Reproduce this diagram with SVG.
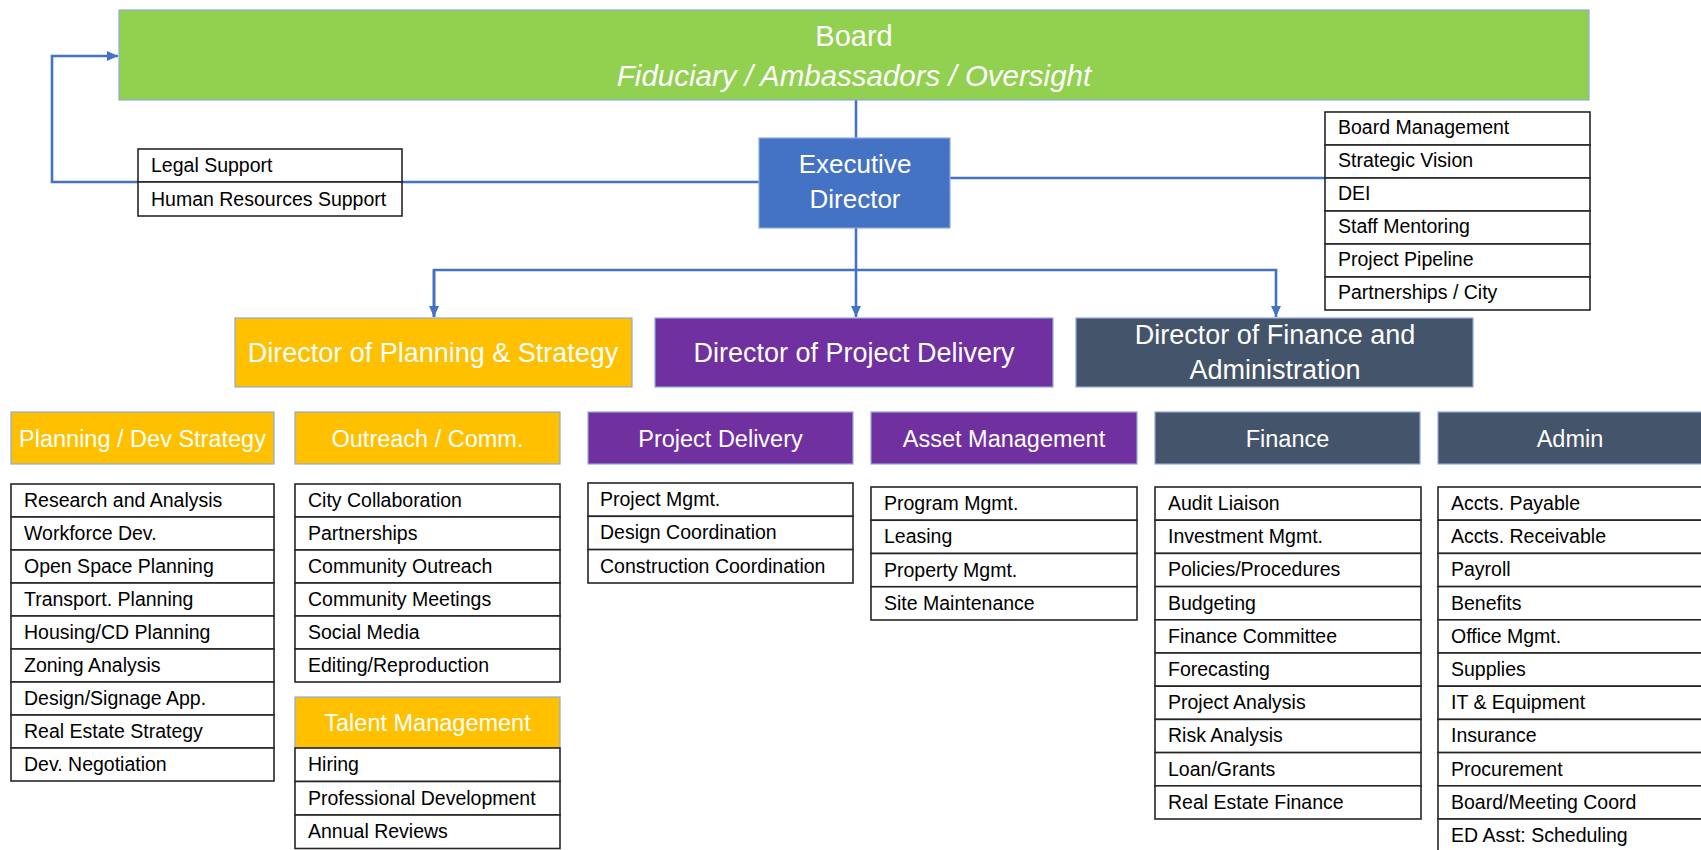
<svg xmlns="http://www.w3.org/2000/svg" width="1701" height="850" viewBox="0 0 1701 850">
<style>
text{font-family:"Liberation Sans",Arial,sans-serif}
.hdr{stroke:#8eaadb;stroke-width:1.2}
.green{fill:#92d050}
.blue{fill:#4472c4}
.gold{fill:#ffc000}
.purple{fill:#7030a0}
.slate{fill:#44546a}
.cell{fill:#fff;stroke:#262626;stroke-width:1.6}
.li{font-size:19.5px;fill:#000}
.wt{fill:#fff;text-anchor:middle}
.dir{font-size:27px}
.sub{font-size:23.5px}
.conn{fill:none;stroke:#4472c4;stroke-width:2.6}
</style>
<defs>
<marker id="arr" markerUnits="userSpaceOnUse" markerWidth="12" markerHeight="12" refX="11" refY="6" orient="auto">
<path d="M0,1 L11,6 L0,11 Z" fill="#4472c4"/>
</marker>
</defs>

<g id="connectors">
<path class="conn" d="M856,100 V138"/>
<path class="conn" d="M759,182 H52 V56 H118" marker-end="url(#arr)"/>
<path class="conn" d="M950,178 H1325"/>
<path class="conn" d="M856,228 V317" marker-end="url(#arr)"/>
<path class="conn" d="M434,317 V270 H1276 V317" marker-end="url(#arr)"/>
<path class="conn" d="M434,270 V317" marker-end="url(#arr)"/>
</g>

<g id="board">
<rect class="green hdr" x="119" y="10" width="1470" height="90"/>
<text class="wt" x="854" y="46" font-size="29">Board</text>
<text class="wt" x="854" y="86" font-size="29.5" font-style="italic">Fiduciary / Ambassadors / Oversight</text>
</g>

<g id="executive-director">
<rect class="blue hdr" x="759" y="138" width="191" height="90"/>
<text class="wt" x="855" y="173" font-size="26">Executive</text>
<text class="wt" x="855" y="208" font-size="26">Director</text>
</g>

<g id="legal-hr">
<rect class="cell" x="138" y="149" width="264" height="33"/>
<rect class="cell" x="138" y="182" width="264" height="34"/>
<text class="li" x="151" y="172">Legal Support</text>
<text class="li" x="151" y="206">Human Resources Support</text>
</g>

<g id="ed-duties">
<rect class="cell" x="1325" y="112" width="265" height="33"/>
<rect class="cell" x="1325" y="145" width="265" height="33"/>
<rect class="cell" x="1325" y="178" width="265" height="33"/>
<rect class="cell" x="1325" y="211" width="265" height="33"/>
<rect class="cell" x="1325" y="244" width="265" height="33"/>
<rect class="cell" x="1325" y="277" width="265" height="33"/>
<text class="li" x="1338" y="134">Board Management</text>
<text class="li" x="1338" y="167">Strategic Vision</text>
<text class="li" x="1338" y="200">DEI</text>
<text class="li" x="1338" y="233">Staff Mentoring</text>
<text class="li" x="1338" y="266">Project Pipeline</text>
<text class="li" x="1338" y="299">Partnerships / City</text>
</g>

<g id="director-planning">
<rect class="gold hdr" x="235" y="318" width="397" height="69"/>
<text class="wt dir" x="433" y="362">Director of Planning &amp; Strategy</text>
</g>

<g id="director-project-delivery">
<rect class="purple hdr" x="655" y="318" width="398" height="69"/>
<text class="wt dir" x="854" y="362">Director of Project Delivery</text>
</g>

<g id="director-finance">
<rect class="slate hdr" x="1076" y="318" width="397" height="69"/>
<text class="wt dir" x="1275" y="344">Director of Finance and</text>
<text class="wt dir" x="1275" y="379">Administration</text>
</g>

<g id="planning-dev">
<rect class="gold hdr" x="11" y="412" width="263" height="52"/>
<text class="wt sub" x="142.5" y="447">Planning / Dev Strategy</text>
<rect class="cell" x="11" y="484" width="263" height="33"/>
<rect class="cell" x="11" y="517" width="263" height="33"/>
<rect class="cell" x="11" y="550" width="263" height="33"/>
<rect class="cell" x="11" y="583" width="263" height="33"/>
<rect class="cell" x="11" y="616" width="263" height="33"/>
<rect class="cell" x="11" y="649" width="263" height="33"/>
<rect class="cell" x="11" y="682" width="263" height="33"/>
<rect class="cell" x="11" y="715" width="263" height="33"/>
<rect class="cell" x="11" y="748" width="263" height="33"/>
<text class="li" x="24" y="507">Research and Analysis</text>
<text class="li" x="24" y="540">Workforce Dev.</text>
<text class="li" x="24" y="573">Open Space Planning</text>
<text class="li" x="24" y="606">Transport. Planning</text>
<text class="li" x="24" y="639">Housing/CD Planning</text>
<text class="li" x="24" y="672">Zoning Analysis</text>
<text class="li" x="24" y="705">Design/Signage App.</text>
<text class="li" x="24" y="738">Real Estate Strategy</text>
<text class="li" x="24" y="771">Dev. Negotiation</text>
</g>

<g id="outreach">
<rect class="gold hdr" x="295" y="412" width="265" height="52"/>
<text class="wt sub" x="427.5" y="447">Outreach / Comm.</text>
<rect class="cell" x="295" y="484" width="265" height="33"/>
<rect class="cell" x="295" y="517" width="265" height="33"/>
<rect class="cell" x="295" y="550" width="265" height="33"/>
<rect class="cell" x="295" y="583" width="265" height="33"/>
<rect class="cell" x="295" y="616" width="265" height="33"/>
<rect class="cell" x="295" y="649" width="265" height="33"/>
<text class="li" x="308" y="507">City Collaboration</text>
<text class="li" x="308" y="540">Partnerships</text>
<text class="li" x="308" y="573">Community Outreach</text>
<text class="li" x="308" y="606">Community Meetings</text>
<text class="li" x="308" y="639">Social Media</text>
<text class="li" x="308" y="672">Editing/Reproduction</text>
</g>

<g id="talent">
<rect class="gold hdr" x="295" y="697" width="265" height="51"/>
<text class="wt sub" x="427.5" y="731">Talent Management</text>
<rect class="cell" x="295" y="748" width="265" height="33.5"/>
<rect class="cell" x="295" y="781.5" width="265" height="33.5"/>
<rect class="cell" x="295" y="815" width="265" height="33.5"/>
<text class="li" x="308" y="771">Hiring</text>
<text class="li" x="308" y="805">Professional Development</text>
<text class="li" x="308" y="838">Annual Reviews</text>
</g>

<g id="project-delivery">
<rect class="purple hdr" x="588" y="412" width="265" height="52"/>
<text class="wt sub" x="720.5" y="447">Project Delivery</text>
<rect class="cell" x="588" y="483" width="265" height="33.3"/>
<rect class="cell" x="588" y="516.3" width="265" height="33.3"/>
<rect class="cell" x="588" y="549.6" width="265" height="33.4"/>
<text class="li" x="600" y="506">Project Mgmt.</text>
<text class="li" x="600" y="539">Design Coordination</text>
<text class="li" x="600" y="573">Construction Coordination</text>
</g>

<g id="asset-management">
<rect class="purple hdr" x="871" y="412" width="266" height="52"/>
<text class="wt sub" x="1004" y="447">Asset Management</text>
<rect class="cell" x="871" y="487" width="266" height="33.25"/>
<rect class="cell" x="871" y="520.25" width="266" height="33.25"/>
<rect class="cell" x="871" y="553.5" width="266" height="33.25"/>
<rect class="cell" x="871" y="586.75" width="266" height="33.25"/>
<text class="li" x="884" y="510">Program Mgmt.</text>
<text class="li" x="884" y="543">Leasing</text>
<text class="li" x="884" y="577">Property Mgmt.</text>
<text class="li" x="884" y="610">Site Maintenance</text>
</g>

<g id="finance">
<rect class="slate hdr" x="1155" y="412" width="265" height="52"/>
<text class="wt sub" x="1287.5" y="447">Finance</text>
<rect class="cell" x="1155" y="487" width="266" height="33.2"/>
<rect class="cell" x="1155" y="520.2" width="266" height="33.2"/>
<rect class="cell" x="1155" y="553.4" width="266" height="33.2"/>
<rect class="cell" x="1155" y="586.6" width="266" height="33.2"/>
<rect class="cell" x="1155" y="619.8" width="266" height="33.2"/>
<rect class="cell" x="1155" y="653" width="266" height="33.2"/>
<rect class="cell" x="1155" y="686.2" width="266" height="33.2"/>
<rect class="cell" x="1155" y="719.4" width="266" height="33.2"/>
<rect class="cell" x="1155" y="752.6" width="266" height="33.2"/>
<rect class="cell" x="1155" y="785.8" width="266" height="33.2"/>
<text class="li" x="1168" y="510">Audit Liaison</text>
<text class="li" x="1168" y="543">Investment Mgmt.</text>
<text class="li" x="1168" y="576">Policies/Procedures</text>
<text class="li" x="1168" y="610">Budgeting</text>
<text class="li" x="1168" y="643">Finance Committee</text>
<text class="li" x="1168" y="676">Forecasting</text>
<text class="li" x="1168" y="709">Project Analysis</text>
<text class="li" x="1168" y="742">Risk Analysis</text>
<text class="li" x="1168" y="776">Loan/Grants</text>
<text class="li" x="1168" y="809">Real Estate Finance</text>
</g>

<g id="admin">
<rect class="slate hdr" x="1438" y="412" width="265" height="52"/>
<text class="wt sub" x="1570" y="447">Admin</text>
<rect class="cell" x="1438" y="487" width="265" height="33.2"/>
<rect class="cell" x="1438" y="520.2" width="265" height="33.2"/>
<rect class="cell" x="1438" y="553.4" width="265" height="33.2"/>
<rect class="cell" x="1438" y="586.6" width="265" height="33.2"/>
<rect class="cell" x="1438" y="619.8" width="265" height="33.2"/>
<rect class="cell" x="1438" y="653" width="265" height="33.2"/>
<rect class="cell" x="1438" y="686.2" width="265" height="33.2"/>
<rect class="cell" x="1438" y="719.4" width="265" height="33.2"/>
<rect class="cell" x="1438" y="752.6" width="265" height="33.2"/>
<rect class="cell" x="1438" y="785.8" width="265" height="33.2"/>
<rect class="cell" x="1438" y="819" width="265" height="33.2"/>
<text class="li" x="1451" y="510">Accts. Payable</text>
<text class="li" x="1451" y="543">Accts. Receivable</text>
<text class="li" x="1451" y="576">Payroll</text>
<text class="li" x="1451" y="610">Benefits</text>
<text class="li" x="1451" y="643">Office Mgmt.</text>
<text class="li" x="1451" y="676">Supplies</text>
<text class="li" x="1451" y="709">IT &amp; Equipment</text>
<text class="li" x="1451" y="742">Insurance</text>
<text class="li" x="1451" y="776">Procurement</text>
<text class="li" x="1451" y="809">Board/Meeting Coord</text>
<text class="li" x="1451" y="842">ED Asst: Scheduling</text>
</g>
</svg>
